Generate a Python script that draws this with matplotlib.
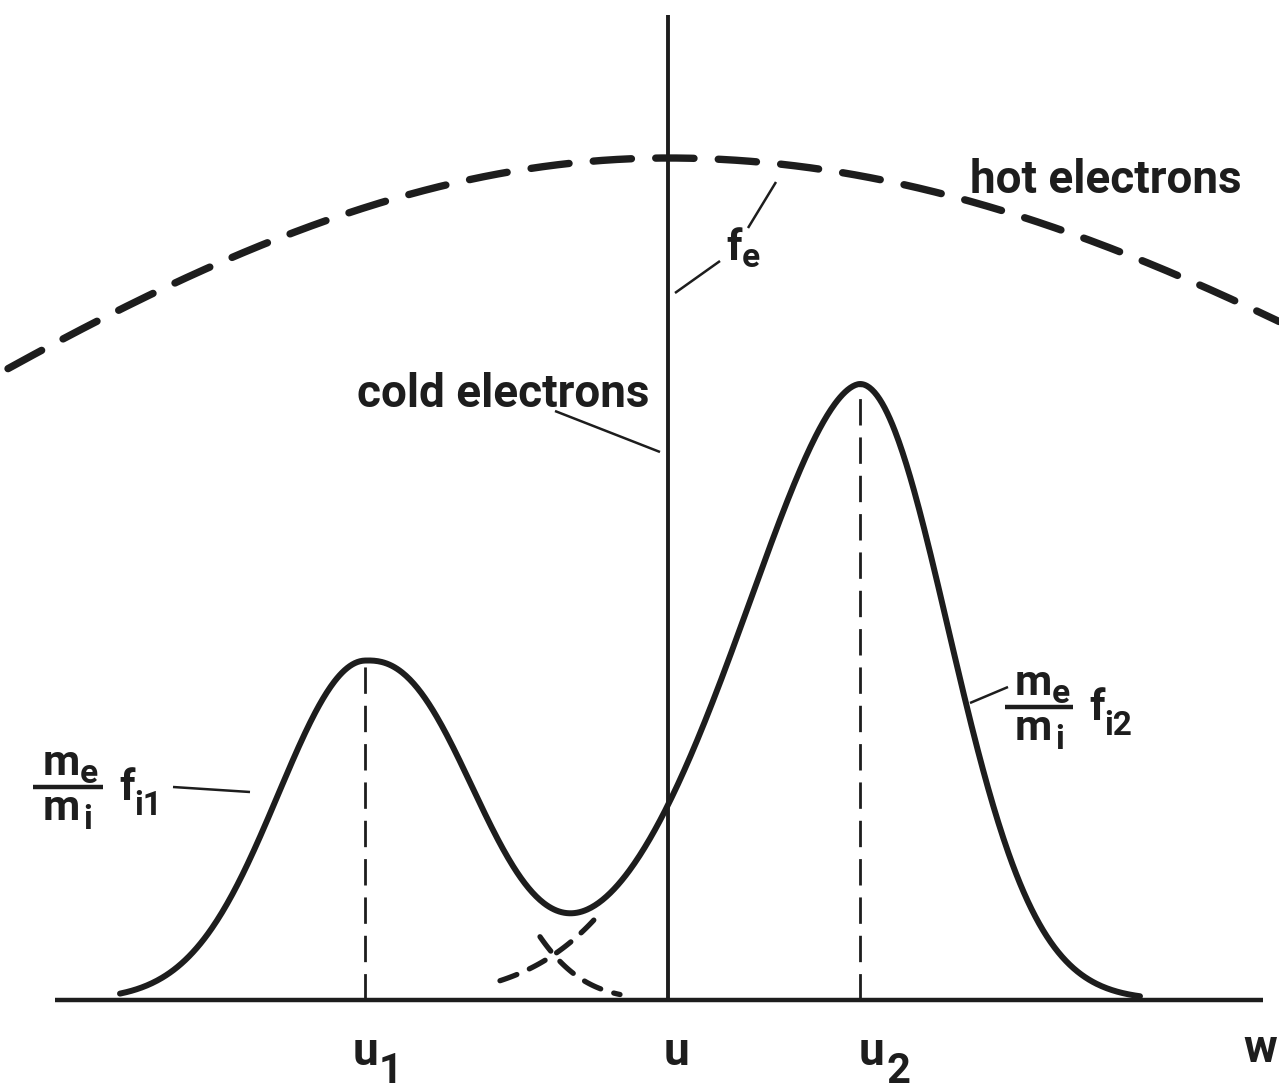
import numpy as np
import matplotlib
matplotlib.use("Agg")
import matplotlib.pyplot as plt

# --- velocity positions (w axis) -------------------------------------------
u1, u, u2 = 3.65, 6.68, 8.60

# --- ion beams: height and flank shapes (scale, exponent) ------------------
ion_centers = [u1, u2]
ion_heights = [3.38, 6.16]
ion_left = [(1.23, 2.0), (1.77, 1.75)]
ion_right = [(1.41, 2.39), (1.24, 2.0)]

# --- electrons ---------------------------------------------------------------
hot_center = u
hot_height = 8.42
hot_left = (12.3, 2.0)
hot_right = (13.15, 2.0)
cold_height = 9.85                # delta-like cold population at w = u

# --- drawing ranges along w ---------------------------------------------------
axis_range = (0.55, 12.63)
ion_range = (1.20, 11.40)
hot_range = (0.08, 12.79)
tail1_range = (5.40, 6.20)        # dashed continuation of f_i1
tail2_range = (5.00, 5.98)        # dashed continuation of f_i2

INK = "#1d1d1d"


def flank_profile(w, center, height, left, right):
    d = w - center
    s = np.where(d < 0, left[0], right[0])
    p = np.where(d < 0, left[1], right[1])
    return height * np.exp(-(np.abs(d) / s) ** p)


def ion(w, k):
    return flank_profile(w, ion_centers[k], ion_heights[k], ion_left[k], ion_right[k])


def hot(w):
    return flank_profile(w, hot_center, hot_height, hot_left, hot_right)


fig = plt.figure(figsize=(12.79, 10.90), dpi=100)
ax = fig.add_axes([0, 0, 1, 1])
ax.set_xlim(0, 12.79)
ax.set_ylim(-0.90, 10.0)
ax.axis("off")

# w axis
ax.plot(axis_range, [0, 0], color=INK, lw=3.2, solid_capstyle="butt")

# cold electrons (vertical line at u)
ax.plot([u, u], [0, cold_height], color=INK, lw=2.8, solid_capstyle="butt")

# hot electrons (broad dashed Maxwellian)
wh = np.linspace(*hot_range, 600)
ax.plot(wh, hot(wh), color=INK, lw=5.3, dashes=(5.2, 3.3),
        dash_capstyle="round")

# total ion distribution
wi = np.linspace(*ion_range, 800)
ax.plot(wi, ion(wi, 0) + ion(wi, 1), color=INK, lw=4.3,
        solid_capstyle="round", solid_joinstyle="round")

# individual beams in the overlap region
wt1 = np.linspace(*tail1_range, 120)
ax.plot(wt1, ion(wt1, 0), color=INK, lw=3.8, dashes=(3.4, 2.6),
        dash_capstyle="round")
wt2 = np.linspace(*tail2_range, 120)
ax.plot(wt2, ion(wt2, 1), color=INK, lw=3.8, dashes=(3.4, 2.6),
        dash_capstyle="round")

# beam velocities
for c, h in zip(ion_centers, ion_heights):
    ax.plot([c, c], [0, h], color=INK, lw=2.0, dashes=(9.5, 4.3),
            dash_capstyle="butt")

# --- labels -------------------------------------------------------------------
FONT = "Roboto"
big = dict(color=INK, family=FONT, weight="bold", fontsize=33)
idx = dict(color=INK, family=FONT, weight="bold", fontsize=30)
mid = dict(color=INK, family=FONT, weight="bold", fontsize=31)
sub = dict(color=INK, family=FONT, weight="bold", fontsize=24)

ax.text(9.70, 8.07, "hot electrons", ha="left", va="baseline", **big)
ax.text(3.57, 5.93, "cold electrons", ha="left", va="baseline", **big)

ax.text(7.26, 7.40, "f", ha="left", va="baseline", **mid)
ax.text(7.42, 7.33, "e", ha="left", va="baseline", **sub)

leader = dict(color=INK, lw=1.8, solid_capstyle="butt")
ax.plot([5.55, 6.60], [5.89, 5.48], **leader)
ax.plot([7.48, 7.76], [7.72, 8.18], **leader)
ax.plot([6.75, 7.20], [7.07, 7.39], **leader)
ax.plot([1.73, 2.50], [2.13, 2.08], **leader)
ax.plot([9.70, 10.08], [2.97, 3.13], **leader)

# axis labels
ax.text(3.53, -0.65, "u", ha="left", va="baseline", **big)
ax.text(3.79, -0.83, "1", ha="left", va="baseline", **idx)
ax.text(6.76, -0.65, "u", ha="center", va="baseline", **big)
ax.text(8.59, -0.65, "u", ha="left", va="baseline", **big)
ax.text(8.86, -0.83, "2", ha="left", va="baseline", **idx)
ax.text(12.60, -0.62, "w", ha="center", va="baseline", **big)


def mass_ratio_label(x0, y_bar, bar_len, beam):
    ax.plot([x0, x0 + bar_len], [y_bar, y_bar], color=INK, lw=3.2,
            solid_capstyle="butt")
    ax.text(x0 + 0.10, y_bar + 0.12, "m", ha="left", va="baseline", **mid)
    ax.text(x0 + 0.47, y_bar + 0.04, "e", ha="left", va="baseline", **sub)
    ax.text(x0 + 0.10, y_bar - 0.33, "m", ha="left", va="baseline", **mid)
    ax.text(x0 + 0.50, y_bar - 0.42, "i", ha="left", va="baseline", **sub)
    ax.text(x0 + bar_len + 0.16, y_bar - 0.13, "f", ha="left", va="baseline", **mid)
    ax.text(x0 + bar_len + 0.31, y_bar - 0.28, "i" + beam, ha="left",
            va="baseline", **sub)


mass_ratio_label(0.33, 2.13, 0.70, "1")
mass_ratio_label(10.05, 2.93, 0.68, "2")

fig.savefig("out.png", dpi=100, facecolor="white")
